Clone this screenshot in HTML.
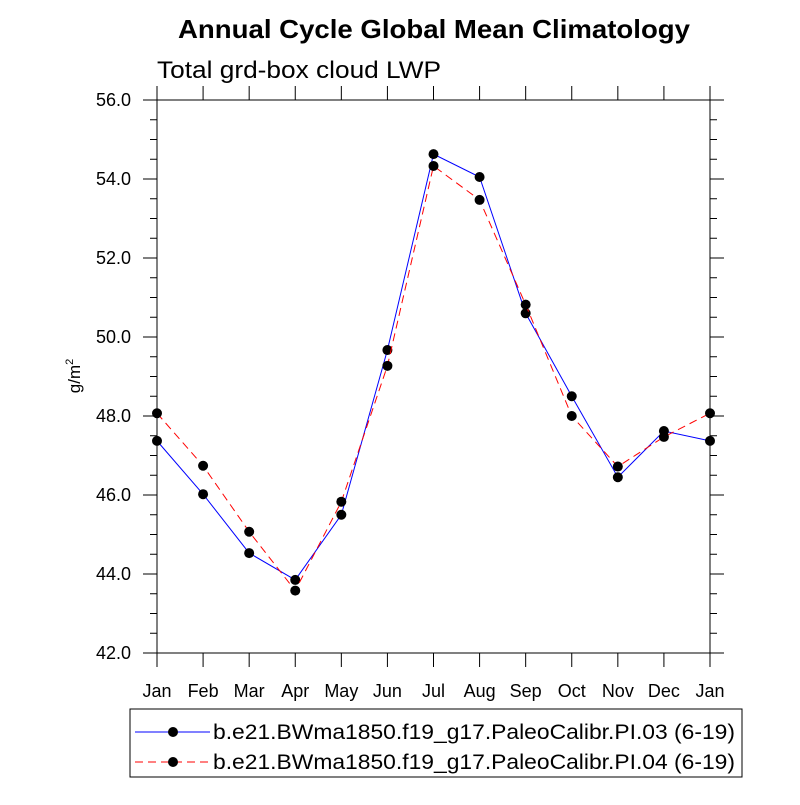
<!DOCTYPE html>
<html><head><meta charset="utf-8"><style>
body{margin:0;background:#fff;}
svg text{font-family:"Liberation Sans",Arial,sans-serif;}
</style></head><body>
<svg id="chart" width="800" height="800" xmlns="http://www.w3.org/2000/svg">
<text x="178" y="38" font-size="26" font-weight="bold" textLength="512" lengthAdjust="spacingAndGlyphs">Annual Cycle Global Mean Climatology</text>
<text x="157" y="78" font-size="24" textLength="284" lengthAdjust="spacingAndGlyphs">Total grd-box cloud LWP</text>
<text transform="translate(80,376) rotate(-90)" text-anchor="middle" font-size="17">g/m<tspan font-size="11" dy="-7">2</tspan></text>
<g id="axes"></g>
<g id="series"></g>
<g>
<rect x="130" y="709" width="612" height="68" fill="none" stroke="#000" stroke-width="1"/>
<g>
<line x1="135" y1="732" x2="210" y2="732" stroke="#0000ff" stroke-width="1"/>
<circle cx="173" cy="732" r="5" fill="#000"/>
<text x="213" y="739" font-size="21" textLength="522" lengthAdjust="spacingAndGlyphs">b.e21.BWma1850.f19_g17.PaleoCalibr.PI.03 (6-19)</text>
</g>
<g>
<line x1="135" y1="762" x2="210" y2="762" stroke="#ff0000" stroke-width="1" stroke-dasharray="8,5"/>
<circle cx="173" cy="762" r="5" fill="#000"/>
<text x="213" y="769" font-size="21" textLength="522" lengthAdjust="spacingAndGlyphs">b.e21.BWma1850.f19_g17.PaleoCalibr.PI.04 (6-19)</text>
</g>
</g>
</svg>
<script>
const months = ["Jan","Feb","Mar","Apr","May","Jun","Jul","Aug","Sep","Oct","Nov","Dec","Jan"];
const seriesPI03 = [47.37,46.02,44.53,43.85,45.5,49.67,54.63,54.05,50.6,48.5,46.45,47.62,47.37];
const seriesPI04 = [48.07,46.74,45.07,43.58,45.83,49.27,54.33,53.47,50.82,48.0,46.72,47.47,48.07];
const yTicks = [42,44,46,48,50,52,54,56];
const yTickLabels = ["42.0","44.0","46.0","48.0","50.0","52.0","54.0","56.0"];

const NS="http://www.w3.org/2000/svg";
const L=157,R=710,T=100,B=653,yMin=42,yMax=56;
const xs=i=>L+i*(R-L)/12;
const ys=v=>B-(v-yMin)/(yMax-yMin)*(B-T);
function mk(tag,attrs,parent){const e=document.createElementNS(NS,tag);for(const k in attrs)e.setAttribute(k,attrs[k]);parent.appendChild(e);return e;}
const ax=document.getElementById('axes');
let fr=mk('rect',{x:L,y:T,width:R-L,height:B-T,fill:'none',stroke:'#000','stroke-width':1},ax);


for(let v=yMin;v<=yMax+1e-9;v+=0.5){
  const y=ys(v);const major=Math.abs(v-Math.round(v/2)*2)<1e-9;const len=major?14:7;
  mk('line',{x1:L,y1:y,x2:L-len,y2:y,stroke:'#000'},ax);
  mk('line',{x1:R,y1:y,x2:R+len,y2:y,stroke:'#000'},ax);
}
yTicks.forEach((v,i)=>{
  const t=mk('text',{x:L-26,y:ys(v)+6,'text-anchor':'end','font-size':18},ax);
  t.textContent=yTickLabels[i];
  
  
});
months.forEach((m,i)=>{
  const x=xs(i);
  mk('line',{x1:x,y1:B,x2:x,y2:B+14,stroke:'#000'},ax);
  mk('line',{x1:x,y1:T,x2:x,y2:T-14,stroke:'#000'},ax);
  const t=mk('text',{x:x,y:B+44,'text-anchor':'middle','font-size':18},ax);
  t.textContent=m;
  
  
});
const sg=document.getElementById('series');
function draw(vals,color,dash,name){
  const g=mk('g',{},sg);
  
  
  const p=mk('polyline',{points:vals.map((v,i)=>xs(i)+','+ys(v)).join(' '),fill:'none',stroke:color,'stroke-width':1},g);
  if(dash)p.setAttribute('stroke-dasharray',dash);
  vals.forEach((v,i)=>{
    const c=mk('circle',{cx:xs(i),cy:ys(v),r:5,fill:'#000'},g);
    
    
  });
}
draw(seriesPI03,'#0000ff',null,'series-pi03');
draw(seriesPI04,'#ff0000','8,5','series-pi04');
</script>
</body></html>
